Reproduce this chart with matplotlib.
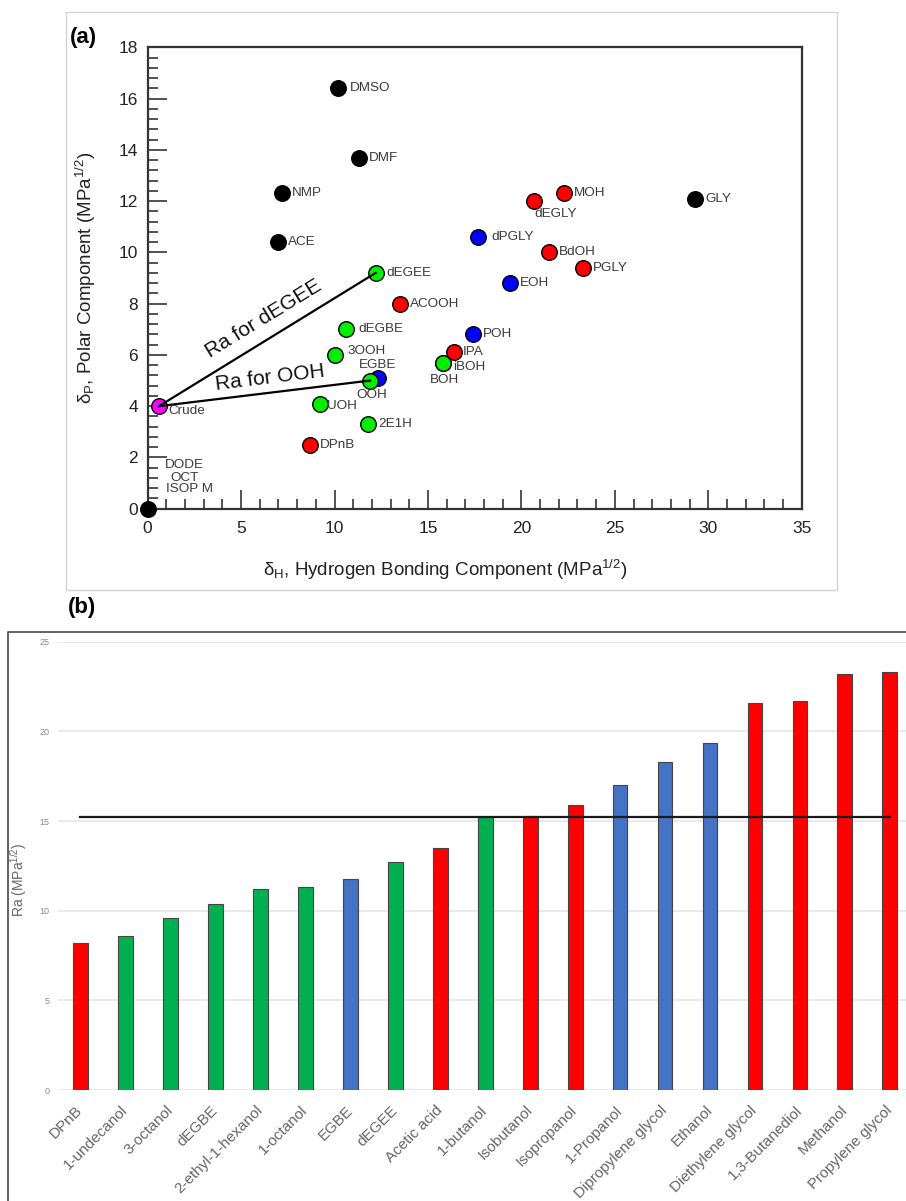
import numpy as np
import matplotlib.pyplot as plt
from matplotlib.ticker import MultipleLocator
from matplotlib.patches import Rectangle
from matplotlib.lines import Line2D

plt.rcParams['font.family'] = ['Liberation Sans', 'DejaVu Sans']
plt.rcParams['mathtext.fontset'] = 'custom'
plt.rcParams['mathtext.rm'] = 'Liberation Sans'
plt.rcParams['mathtext.it'] = 'Liberation Sans:italic'

# (a) Hansen parameters: hydrogen bonding vs polar component
hsp_names = ['DMSO', 'DMF', 'NMP', 'ACE', 'GLY', 'ALK', 'dPGLY', 'EOH', 'POH', 'EGBE',
             'dEGEE', 'dEGBE', '3OOH', 'OOH', 'UOH', '2E1H', 'iBOH', 'BOH',
             'MOH', 'dEGLY', 'BdOH', 'PGLY', 'ACOOH', 'IPA', 'DPnB', 'Crude']
hsp_dH = [10.2, 11.3, 7.2, 7.0, 29.3, 0.0, 17.7, 19.4, 17.4, 12.3,
          12.2, 10.6, 10.0, 11.9, 9.2, 11.8, 15.8, 15.8,
          22.3, 20.7, 21.5, 23.3, 13.5, 16.4, 8.7, 0.6]
hsp_dP = [16.4, 13.7, 12.3, 10.4, 12.1, 0.0, 10.6, 8.8, 6.8, 5.1,
          9.2, 7.0, 6.0, 5.0, 4.1, 3.3, 5.7, 5.7,
          12.3, 12.0, 10.0, 9.4, 8.0, 6.1, 2.5, 4.0]
hsp_group = ['other'] * 6 + ['blue'] * 4 + ['green'] * 6 + ['red', 'green'] + ['red'] * 7 + ['crude']
alkane_labels = ['DODE', 'OCT', 'ISOP M']
ra_lines = ['dEGEE', 'OOH']

# (b) Ra distance from crude
ra_names = ['DPnB', '1-undecanol', '3-octanol', 'dEGBE', '2-ethyl-1-hexanol', '1-octanol',
            'EGBE', 'dEGEE', 'Acetic acid', '1-butanol', 'Isobutanol', 'Isopropanol',
            '1-Propanol', 'Dipropylene glycol', 'Ethanol', 'Diethylene glycol',
            '1,3-Butanediol', 'Methanol', 'Propylene glycol']
ra_values = [8.2, 8.6, 9.6, 10.4, 11.2, 11.3, 11.75, 12.7, 13.5, 15.2, 15.3, 15.9,
             17.0, 18.3, 19.35, 21.6, 21.7, 23.2, 23.3]
ra_group = ['red', 'green', 'green', 'green', 'green', 'green', 'blue', 'green', 'red',
            'green', 'red', 'red', 'blue', 'blue', 'blue', 'red', 'red', 'red', 'red']
ra_threshold = 15.25

point_colors = {'other': 'black', 'blue': '#0000ff', 'green': '#00ee00', 'red': '#ff0000', 'crude': '#ff00ff'}
bar_colors = {'red': '#ff0000', 'green': '#00b050', 'blue': '#4472c4'}

# label offsets in points (default: right of marker)
label_offsets = {'DMSO': (8.5, 0), 'dEGEE': (8, 0), 'dEGBE': (9, 0), 'dPGLY': (9, 0),
                 'dEGLY': (0, -9), 'BOH': (-9.5, -12.5), 'iBOH': (7.5, -3.5), 'IPA': (6, 0),
                 'EGBE': (-13.5, 9.5), 'OOH': (-10, -10.5), '3OOH': (9.5, 3),
                 'Crude': (7, -3.5), 'UOH': (5, -1.5)}

fig = plt.figure(figsize=(9.06, 12.01), dpi=100)

# panel frames
fig.patches.append(Rectangle((0.0725, 0.5087), 0.851, 0.4815, transform=fig.transFigure,
                             fill=False, edgecolor='#d4d4d4', lw=1.0))
fig.lines.append(Line2D([0.0092, 0.0092, 1.0], [0.0, 0.474, 0.474], transform=fig.transFigure,
                        color='#555555', lw=1.3))

# ---- (a) ----
ax = fig.add_axes([0.1630, 0.5764, 0.7219, 0.3842])
text_color = '#3a3a3a'
for name, x, y, g in zip(hsp_names, hsp_dH, hsp_dP, hsp_group):
    ax.scatter([x], [y], s=125, color=point_colors[g], edgecolors='black', linewidths=1.0,
               zorder=3, clip_on=False)
    if name == 'ALK':
        for lab, off in zip(alkane_labels, [(26.5, 31.5), (26.5, 22), (30, 14)]):
            ax.annotate(lab, (x, y), xytext=off, textcoords='offset points', ha='center',
                        va='center', fontsize=9.7, color=text_color)
        continue
    off = label_offsets.get(name, (7, 0))
    ax.annotate(name, (x, y), xytext=off, textcoords='offset points', ha='left',
                va='center', fontsize=9.7, color=text_color, zorder=5)

crude_i = hsp_names.index('Crude')
for name in ra_lines:
    i = hsp_names.index(name)
    ax.plot([hsp_dH[crude_i], hsp_dH[i]], [hsp_dP[crude_i], hsp_dP[i]], color='black', lw=1.6, zorder=4)

ax.text(6.19, 7.43, 'Ra for dEGEE', rotation=31.5, ha='center', va='center', fontsize=15, color='#111111')
ax.text(6.54, 5.09, 'Ra for OOH', rotation=7, ha='center', va='center', fontsize=15, color='#111111')

ax.set_xlim(0, 35)
ax.set_ylim(0, 18)
ax.xaxis.set_major_locator(MultipleLocator(5))
ax.xaxis.set_minor_locator(MultipleLocator(1))
ax.yaxis.set_major_locator(MultipleLocator(2))
ax.yaxis.set_minor_locator(MultipleLocator(0.4))
ax.tick_params(which='both', direction='in', top=False, right=False, color='#333333', width=1.2,
               labelsize=12.5, labelcolor='#222222')
ax.tick_params(which='major', length=14)
ax.tick_params(which='minor', length=7)
ax.tick_params(axis='x', pad=9)
ax.tick_params(axis='y', pad=7)
for sp in ax.spines.values():
    sp.set_linewidth(1.6)
    sp.set_color('#333333')

ax.set_xlabel('δ$_\\mathrm{H}$, Hydrogen Bonding Component (MPa$^{1/2}$)', fontsize=13.5, color='#222222')
ax.xaxis.set_label_coords(0.455, -0.133)
ax.xaxis.label.set_va('center')
ax.set_ylabel('δ$_\\mathrm{P}$, Polar Component (MPa$^{1/2}$)', fontsize=13.5, color='#222222')
ax.yaxis.set_label_coords(-0.094, 0.5)
ax.yaxis.label.set_va('center')

fig.text(0.077, 0.969, '(a)', fontsize=16, fontweight='bold', va='center', ha='left')
fig.text(0.075, 0.494, '(b)', fontsize=16, fontweight='bold', va='center', ha='left')

# ---- (b) ----
bx = fig.add_axes([0.0640, 0.0924, 0.943, 0.3733])
pos = np.arange(len(ra_names))
bx.bar(pos, ra_values, width=0.33, color=[bar_colors[g] for g in ra_group],
       edgecolor='#444444', linewidth=0.8, zorder=3)
bx.plot([pos[0], pos[-1]], [ra_threshold, ra_threshold], color='#1a1a1a', lw=1.6, zorder=4)
bx.set_xlim(-0.5, 18.5)
bx.set_ylim(0, 25)
bx.set_yticks([0, 5, 10, 15, 20, 25])
bx.grid(axis='y', color='#e6e6e6', lw=1.2, zorder=0)
for sp in bx.spines.values():
    sp.set_visible(False)
bx.tick_params(axis='y', length=0, labelsize=6.5, labelcolor='#888888', pad=6)
bx.tick_params(axis='x', length=0, pad=13)
bx.set_xticks(pos)
bx.set_xticklabels(ra_names, rotation=45, ha='right', va='center', rotation_mode='anchor',
                   fontsize=11, color='#666666')
bx.set_ylabel('Ra (MPa$^{1/2}$)', fontsize=10, color='#666666')
bx.yaxis.set_label_coords(-0.034, 0.47)

fig.savefig('out.png', dpi=100)
